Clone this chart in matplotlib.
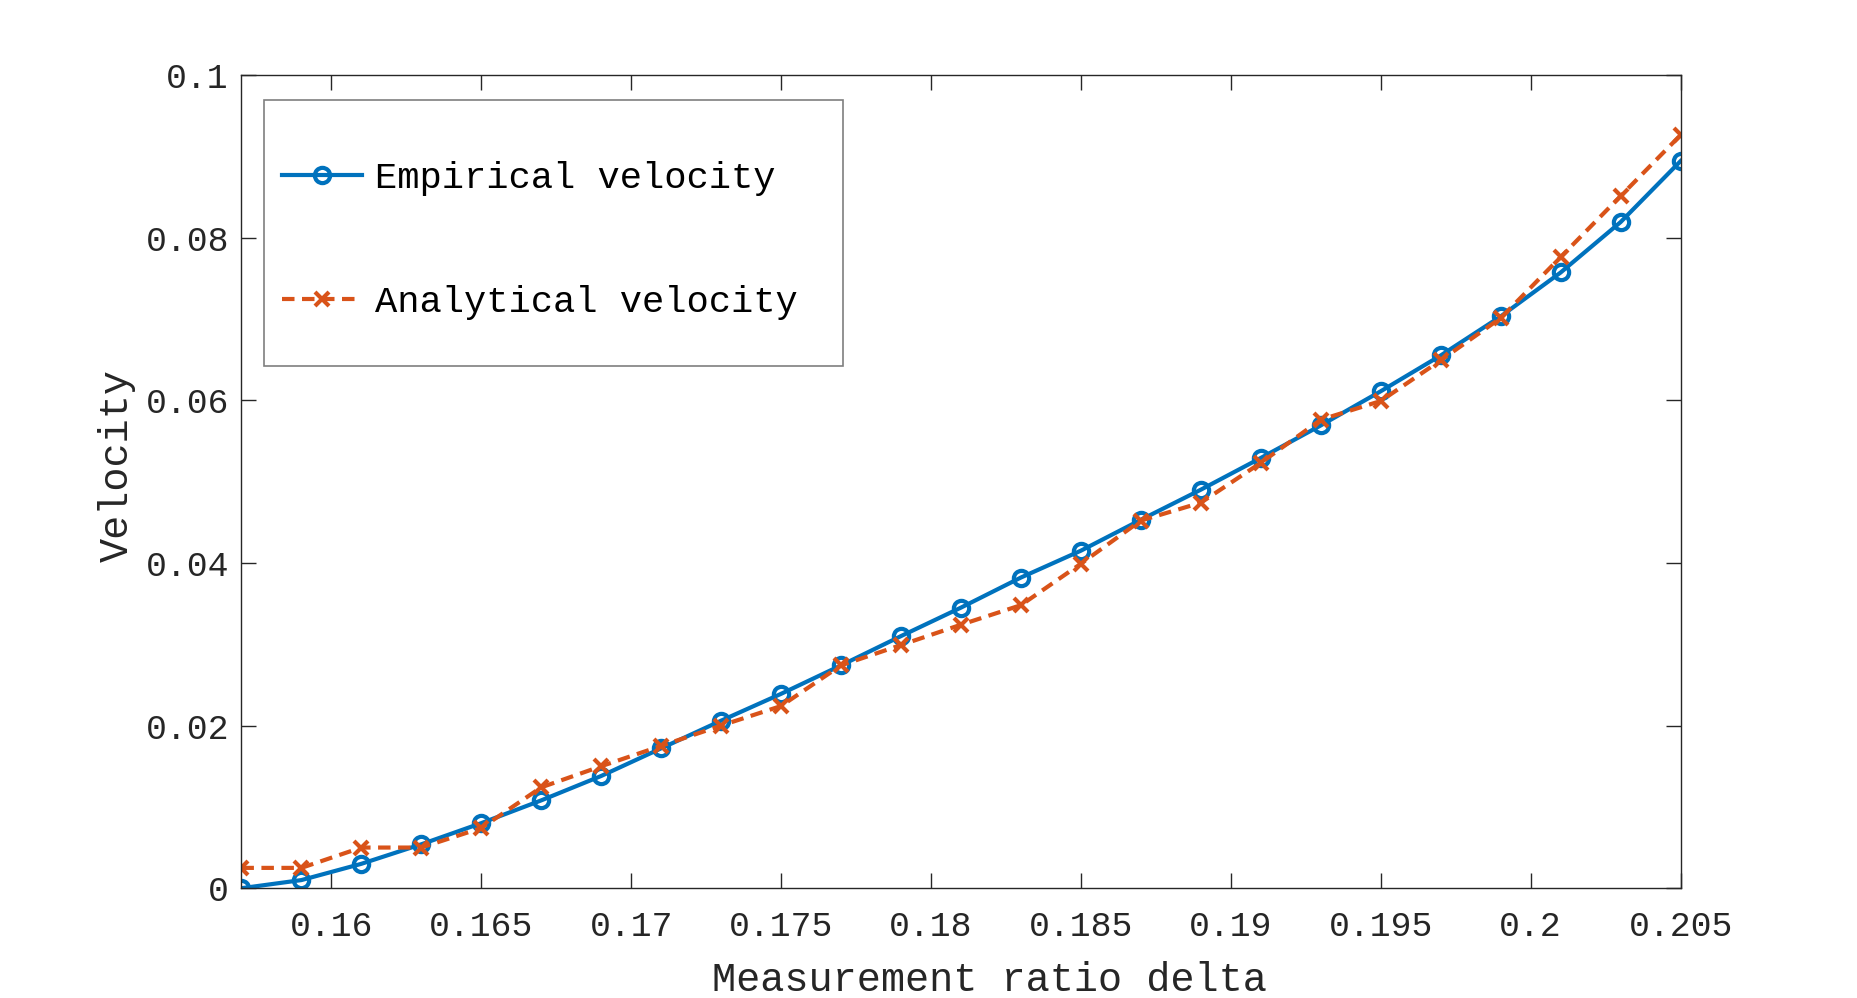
import numpy as np
import matplotlib
matplotlib.use("Agg")
import matplotlib.pyplot as plt
from matplotlib.patches import Rectangle

plt.rcParams['font.family'] = ['Liberation Mono', 'DejaVu Sans']

# measurement ratio delta
delta = [0.157, 0.159, 0.161, 0.163, 0.165, 0.167, 0.169, 0.171, 0.173,
         0.175, 0.177, 0.179, 0.181, 0.183, 0.185, 0.187, 0.189, 0.191,
         0.193, 0.195, 0.197, 0.199, 0.201, 0.203, 0.205]

empirical = [0.0, 0.001, 0.003, 0.0054, 0.008, 0.0108, 0.0138, 0.0172, 0.0206,
             0.0239, 0.0274, 0.031, 0.0345, 0.0382, 0.0415, 0.0453, 0.049, 0.0529,
             0.0569, 0.0611, 0.0655, 0.0703, 0.0757, 0.0819, 0.0894]

analytical = [0.0025, 0.0025, 0.005, 0.005, 0.0074, 0.0124, 0.015, 0.0175, 0.02,
              0.0224, 0.0274, 0.0299, 0.0324, 0.0348, 0.0399, 0.0452, 0.0474, 0.0523,
              0.0576, 0.0599, 0.0649, 0.0701, 0.0776, 0.0851, 0.0926]

xticks = [0.16, 0.165, 0.17, 0.175, 0.18, 0.185, 0.19, 0.195, 0.2, 0.205]
xticklabels = ['0.16', '0.165', '0.17', '0.175', '0.18', '0.185', '0.19', '0.195', '0.2', '0.205']
yticks = [0, 0.02, 0.04, 0.06, 0.08, 0.1]
yticklabels = ['0', '0.02', '0.04', '0.06', '0.08', '0.1']

fig = plt.figure(figsize=(18.57, 9.98), dpi=100)
ax = fig.add_axes([0.13, 0.11, 0.775, 0.815])

ax.plot(delta, empirical, color='#0072BD', lw=3.0, marker='o', ms=11,
        mfc='none', mew=3.0, label='Empirical velocity')
ax.plot(delta, analytical, color='#D95319', lw=3.0, ls=(0, (3.0, 1.8)), marker='x',
        ms=10, mew=3.0, label='Analytical velocity')

ax.set_xlim(0.157, 0.205)
ax.set_ylim(0, 0.1)
ax.set_xticks(xticks)
ax.set_xticklabels(xticklabels)
ax.set_yticks(yticks)
ax.set_yticklabels(yticklabels)

dark = '#262626'
for s in ax.spines.values():
    s.set_color(dark)
    s.set_linewidth(1.0)
ax.tick_params(direction='in', length=11, width=1.0, color=dark, labelcolor=dark,
               labelsize=25, top=True, right=True)
ax.tick_params(axis='x', pad=16)
ax.tick_params(axis='y', pad=9)

ax.set_xlabel('Measurement ratio delta', fontsize=29, color=dark, labelpad=12.5, x=0.52)
ax.set_ylabel('Velocity', fontsize=29, color=dark, labelpad=7, y=0.52)

leg = ax.legend(loc='upper left', bbox_to_anchor=(0.0153, 0.917), frameon=False,
                borderpad=0, fontsize=26.7, handlelength=2.15, handletextpad=0.35,
                labelspacing=2.4)
for t in leg.get_texts():
    t.set_color('black')

# legend frame drawn as a plain box (MATLAB style)
ax.add_patch(Rectangle((0.016, 0.642), 0.402, 0.327, transform=ax.transAxes,
                       fill=False, ec='#7f7f7f', lw=1.2, zorder=5))

fig.savefig('out.png', dpi=100)
